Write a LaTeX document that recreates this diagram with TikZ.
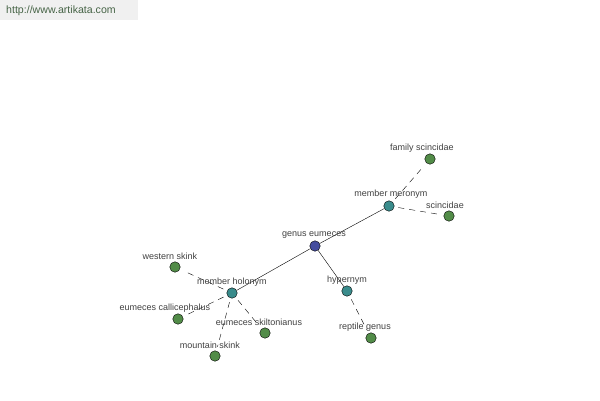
\documentclass[tikz,border=0pt]{standalone}
\usepackage{fontspec}
\setmainfont{Liberation Sans}
\usetikzlibrary{positioning}
\definecolor{hubblue}{RGB}{68,76,158}
\definecolor{relteal}{RGB}{58,140,140}
\definecolor{leafgreen}{RGB}{82,140,72}
\definecolor{urlgreen}{RGB}{70,100,70}

\tikzset{
    dot/.style={circle, draw=black, line width=0.4pt, inner sep=0pt, minimum size=10.5pt},
    hub/.style={dot, fill=hubblue},
    rel/.style={dot, fill=relteal},
    leaf/.style={dot, fill=leafgreen},
    lbl/.style={font=\fontsize{9}{10}\selectfont, text=black!75, inner sep=0pt},
    solidedge/.style={line width=0.4pt},
    dashedge/.style={line width=0.4pt, dash pattern=on 6pt off 5pt, shorten <=4pt, shorten >=4pt}
}

\begin{document}
\begin{tikzpicture}[x=1pt, y=-1pt]
    % page frame
    \useasboundingbox (0,0) rectangle (600,400);

    % watermark
    \fill[black!6] (0,0) rectangle (138,20);
    \node[font=\fontsize{10.6}{12}\selectfont, text=urlgreen, anchor=west, inner sep=0pt] (url) at (6,11) {http://www.artikata.com};

    % nodes
    \node[hub]  (genus)    at (315,246) {};
    \node[rel]  (meronym)  at (389,206) {};
    \node[rel]  (holonym)  at (232,293) {};
    \node[rel]  (hypernym) at (347,291) {};
    \node[leaf] (family)   at (430,159) {};
    \node[leaf] (scinc)    at (449,216) {};
    \node[leaf] (western)  at (175,267) {};
    \node[leaf] (callic)   at (178,319) {};
    \node[leaf] (skilton)  at (265,333) {};
    \node[leaf] (mountain) at (215,356) {};
    \node[leaf] (reptile)  at (371,338) {};

% edges
\draw[solidedge] (genus) -- (meronym);
\draw[solidedge] (genus) -- (holonym);
\draw[solidedge] (genus) -- (hypernym);
\foreach \a/\b in {meronym/family, meronym/scinc, holonym/western, holonym/callic,
                   holonym/skilton, holonym/mountain, hypernym/reptile} {
    \draw[dashedge] (\a) -- (\b);
}

% labels
\node[lbl] (lgenus)    at (314,235) {genus eumeces};
\node[lbl] (lmeronym)  at (391,194) {member meronym};
\node[lbl] (lholonym)  at (232,282) {member holonym};
\node[lbl] (lhypernym) at (347,280) {hypernym};
\node[lbl] (lfamily)   at (422,148) {family scincidae};
\node[lbl] (lscinc)    at (445,205) {scincidae};
\node[lbl] (lwestern)  at (170,256) {western skink};
\node[lbl] (lcallic)   at (165,308) {eumeces callicephalus};
\node[lbl] (lskilton)  at (259,322) {eumeces skiltonianus};
\node[lbl] (lmountain) at (210,345) {mountain skink};
\node[lbl] (lreptile)  at (365,327) {reptile genus};

\end{tikzpicture}
\end{document}
